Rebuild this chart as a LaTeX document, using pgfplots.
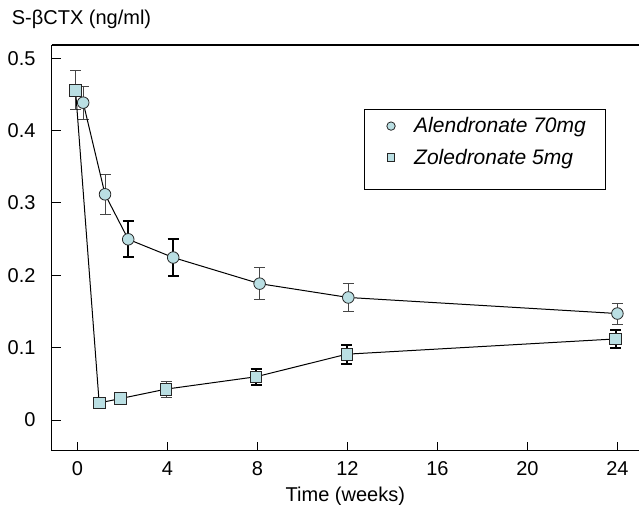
\documentclass[border=0pt]{standalone}
\usepackage{pgfplots}
\pgfplotsset{compat=1.18}
\usepackage{fontspec}
\setmainfont{Liberation Sans}
\definecolor{mk}{RGB}{186,223,227}
\definecolor{eg}{RGB}{70,70,70}
\newcommand{\lgf}{\fontsize{21bp}{25bp}\selectfont\itshape}
\begin{document}
\begin{tikzpicture}
\begin{axis}[
  at={(0,0)}, anchor=south west,
  scale only axis, width=587.3bp, height=405.7bp,
  xmin=-1.14, xmax=24.96, ymin=-0.0424, ymax=0.5184,
  axis x line=box, axis y line=left,
  axis line style={-, line width=1.1bp, black},
  every outer x axis line/.append style={-},
  every outer y axis line/.append style={-},
  every inner x axis line/.append style={-},
  every inner y axis line/.append style={-},
  tick align=inside, xtick pos=bottom, ytick pos=left,
  major tick length=9bp, tick style={line width=1bp, black},
  xtick={0,4,8,12,16,20,24},
  ytick={0,0.1,0.2,0.3,0.4,0.5}, yticklabels={0,0.1,0.2,0.3,0.4,0.5},
  /pgf/number format/assume math mode=true,
  font=\fontsize{20bp}{24bp}\selectfont,
  xticklabel style={anchor=base, inner sep=0pt, yshift=-25bp},
  yticklabel style={anchor=east, inner sep=0pt, xshift=-16bp},
  xlabel={Time (weeks)},
  xlabel style={at={(axis description cs:0.5,0)}, anchor=base, inner sep=0pt, yshift=-51bp},
  title={S-βCTX (ng/ml)},
  title style={at={(axis description cs:0,1)}, anchor=base west, inner sep=0pt, xshift=-40bp, yshift=14.3bp},
  legend style={at={(axis description cs:0.5318,0.8415)}, anchor=north west,
    draw=black, line width=1bp, inner xsep=18bp, inner ysep=0.75bp, row sep=0pt,
    column sep=17bp, nodes={inner xsep=2bp, inner ysep=7.2bp},
    font=\lgf},
  legend cell align=left,
]
% thin error bars
\addplot[forget plot, draw=none, mark=none,
  error bars/.cd, y dir=both, y explicit,
  error bar style={draw=eg, line width=1bp},
  error mark options={rotate=90, draw=eg, line width=1bp, mark size=5.5bp}]
  coordinates {
  (0.26,0.4387) +- (0,0.023)
  (1.23,0.312) +- (0,0.028)
  (8.1,0.1885) +- (0,0.022)
  (12.04,0.1694) +- (0,0.020)
  (24,0.1472) +- (0,0.0145)
  (-0.08,0.4558) +- (0,0.027)
  (3.94,0.0427) +- (0,0.011)
  };
% thick error bars
\addplot[forget plot, draw=none, mark=none,
  error bars/.cd, y dir=both, y explicit,
  error bar style={draw=black, line width=2bp},
  error mark options={rotate=90, draw=black, line width=2bp, mark size=5.5bp}]
  coordinates {
  (2.26,0.2498) +- (0,0.025)
  (4.26,0.2246) +- (0,0.026)
  (7.94,0.0598) +- (0,0.011)
  (11.97,0.0910) +- (0,0.013)
  (23.92,0.1121) +- (0,0.013)
  };
% Zoledronate
\addplot[forget plot, black, line width=1bp, mark=square*, mark size=5.8bp,
  mark options={fill=mk, draw=black!85, line width=0.8bp}]
  coordinates {
  (-0.08,0.4558) (0.97,0.0236) (1.92,0.0297) (3.94,0.0427)
  (7.94,0.0598) (11.97,0.0910) (23.92,0.1121)
  };
% Alendronate
\addplot[forget plot, black, line width=1bp, mark=*, mark size=5.8bp,
  mark options={fill=mk, draw=black!85, line width=0.8bp}]
  coordinates {
  (0.26,0.4387) (1.23,0.312) (2.26,0.2498) (4.26,0.2246)
  (8.1,0.1885) (12.04,0.1694) (24,0.1472)
  };
\addlegendimage{only marks, mark=*, mark size=4.2bp, mark options={fill=mk, draw=black!85, line width=0.8bp}}
\addlegendentry{\lgf Alendronate 70mg}
\addlegendimage{only marks, mark=square*, mark size=3.8bp, mark options={fill=mk, draw=black!85, line width=0.8bp}}
\addlegendentry{\lgf Zoledronate 5mg}
\addlegendimage{empty legend}
\addlegendentry{}
\end{axis}
\pgfresetboundingbox
\path[use as bounding box] (-51.7bp,-54.3bp) rectangle (587.3bp,450.7bp);
\end{tikzpicture}
\end{document}
